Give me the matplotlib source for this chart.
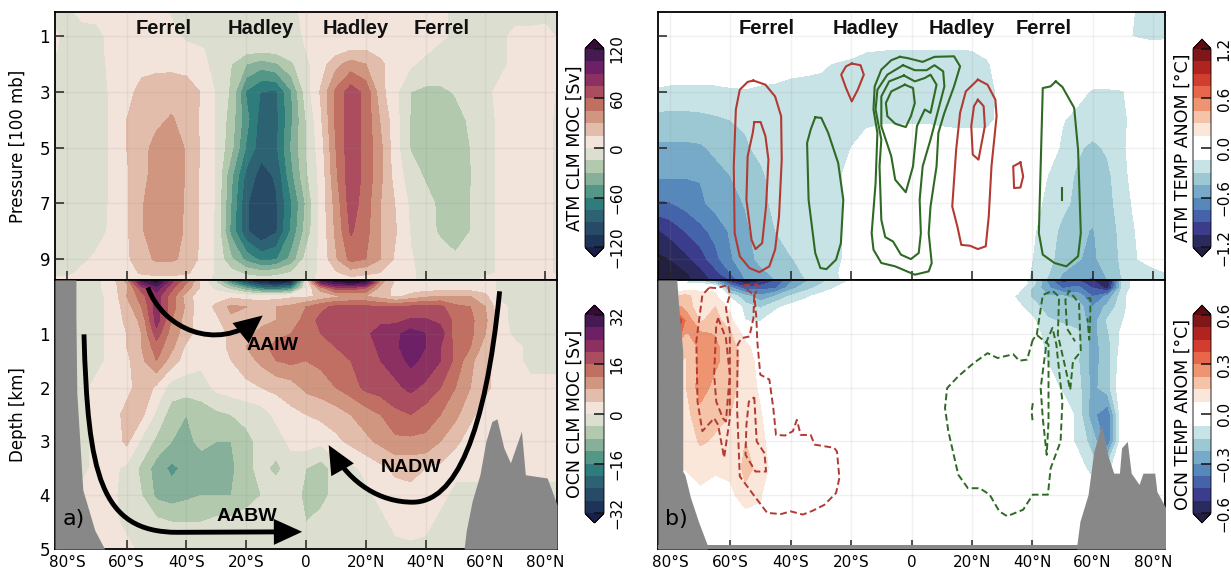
import numpy as np
import matplotlib
matplotlib.use('Agg')
import matplotlib.pyplot as plt
from matplotlib.patches import FancyArrowPatch
from matplotlib.path import Path

### Grids ###
lats = list(range(-85, 90, 5))
pres = [0.13, 1, 1.5, 2, 3, 4, 5, 6, 7, 8, 9, 9.5, 9.75]
depth = [0, 0.05, 0.15, 0.3, 0.5, 0.75, 1, 1.25, 1.5, 2, 2.5, 3, 3.5, 4, 4.5, 5]

### Atmosphere MOC [Sv] ###
atmMoc = [
    [-2,-2,2,2,3, 3,3,3,-1,-3, -3,-3,-3,-3,-3, -3,-2,2,3,3, 3,3,3,3,3, 3,2,-2,-3,-3, -3,-3,-3,-2,-2],
    [2,-2,-3,-2,2, 3,3,4,3,-2, -4,-4,-4,-4,-4, -4,-3,1,3,4, 5,5,4,4,3, 3,2,-2,-3,-3, -2,2,2,2,-1],
    [1,-2,-3,-2,2, 4,6,6,5,3, 1,-4,-7,-10,-11, -10,-6,0,4,8, 15,15,10,4,3, 2,-3,-4,-4,-3, -2,2,2,2,-1],
    [-2,-3,-3,-3,2, 6,10,10,10,8, 4,-5,-15,-30,-38, -32,-18,-3,8,25, 36,30,18,5,2, -4,-5,-5,-5,-4, -2,2,3,2,-1],
    [-2,-4,-4,-3,1, 10,20,25,26,24, 14,-2,-18,-62,-76, -77,-47,-8,17,48, 68,55,20,3,-15, -18,-18,-14,-8,-2, 2,2,2,2,-1],
    [-2,-4,-4,-3,1, 15,24,28,31,26, 12,-2,-22,-55,-82, -80,-48,-15,13,48, 70,55,28,5,-16, -22,-22,-20,-13,-2, 1,2,2,1,-1],
    [-2,-4,-4,-3,1, 15,27,33,35,29, 13,-2,-26,-62,-84, -78,-44,-15,8,45, 70,55,33,5,-16, -24,-24,-22,-15,-2, 1,2,2,1,-1],
    [-2,-4,-4,-3,1, 13,27,34,37,29, 12,-2,-42,-80,-96, -88,-50,-18,5,42, 70,55,33,8,-8, -17,-22,-22,-16,-2, 1,2,2,1,-1],
    [-2,-4,-4,-3,1, 13,29,36,37,28, 12,-2,-46,-88,-104, -92,-62,-28,5,36, 68,52,30,14,-3, -10,-18,-22,-15,-2, 1,2,2,1,-1],
    [-1,-3,-3,-2,1, 13,29,36,36,28, 12,-3,-50,-88,-104, -92,-58,-24,4,33, 62,50,30,16,-1, -10,-17,-18,-15,-2, 1,2,2,1,-1],
    [-1,-2,-1,1,1, 12,25,32,32,27, 11,-3,-28,-50,-65, -62,-40,-10,3,28, 50,45,30,12,1, -4,-9,-14,-12,-2, 1,2,1,1,-1],
    [-1,-1,1,1,1, 8,17,20,20,17, 7,-2,-10,-18,-23, -20,-14,-6,2,12, 22,18,14,7,1, -2,-3,-3,-3,-2, 1,1,1,1,-1],
    [1,1,1,1,1, 3,5,6,6,5, 3,-2,-4,-6,-8, -7,-5,-3,2,4, 8,6,5,3,1, -2,-2,-2,-2,2, 1,1,1,1,1],
]

### Ocean MOC [Sv] ###
ocnMoc = [
    [-1,-1,-1,-1,2, 10,30,34,22,14, 3,-4,-20,-30,-34, -36,-36,-2,30,34, 36,34,10,3,2, 2,2,2,2,2, -1,-1,-1,-1,-1],
    [-1,-1,-1,-1,2, 8,26,32,20,12, 3,-4,-14,-24,-30, -32,-30,-1,24,30, 32,30,9,3,2, 2,2,2,2,2, -1,-1,-1,-1,-1],
    [-1,-1,-1,-1,2, 7,18,26,17,10, 3,-1,-6,-12,-18, -20,-16,0,10,18, 18,16,6,3,2, 2,2,2,2,2, -1,-1,-1,-1,-1],
    [-1,-1,-1,-1,1, 8,14,22,14,6, 1,2,3,2,2, 2,3,3,5,7, 8,8,6,3,5, 7,8,8,8,5, -1,-1,-1,-1,-1],
    [-1,-1,-1,-1,1, 6,12,22,14,7, 1,5,9,8,7, 8,9,12,15,17, 17,17,16,16,17, 17,17,13,12,8, 1,-1,-1,-1,-1],
    [-1,-1,-1,-1,1, 5,9,22,12,6, 1,3,7,7,7, 8,9,14,17,18, 19,19,19,19,20.5, 20.5,19,15,13,9, 1,-1,-1,-1,-1],
    [-1,-1,-1,-1,1, 4,8,18,10,6, 1,2,5,7,9, 11,12,13,16,17, 18,19,22,23,26, 24,22,14,13,8, 2,-1,-1,-1,-1],
    [-1,-1,-1,-1,1, 4,8,14,9,3, 1,2,5,8,11, 13,14,13,15,16, 17,18,21,23,27, 24,20,15,12,6, 2,1,-1,-1,-1],
    [-1,-1,-1,-1,1, 3,7,12,6,2, 1,2,4,6,9, 12,13,12,13,15, 16,18,20,22,25, 23,20,15,9,5, 2,1,-1,-1,-1],
    [-1,-1,-1,1,1, 2,7,3,-2,-2, -2,1,2,3,4, 5,6,9,10,12, 14,17,18,19,21, 19,16,12,8,5, 2,1,1,1,1],
    [-1,-1,-1,1,1, 6,5,-1,-6,-8, -6,-5,-4,-3,-2, 1,3,4,5,6, 8,10,12,15,16, 14,12,9,5,2, 1,1,1,1,1],
    [-1,-1,-1,1,1, 5,-1,-5,-8,-9, -7,-8,-8,-5,-3, -2,1,2,1,3, 5,7,9,11,11, 11,8,5,2,1, 1,1,1,1,1],
    [-1,-1,-1,1,1, -1,-5,-10,-13,-11, -10,-10,-9,-5,-3, -5,-2,-4,-6,-2, -1,1,3,5,5, 4,3,1,1,1, 1,1,1,1,1],
    [1,1,1,1,1, -2,-4,-9,-10,-9, -8,-8,-8,-6,-4, -2,-2,-5,-6,-2, -1,-1,1,2,3, 2,1,-1,-1,-1, -1,-1,-1,-1,-1],
    [1,1,1,1,1, -1,-2,-3,-4,-4, -4,-3,-3,-2,-2, -2,-2,-4,-2,-1, -1,-1,-1,1,2, 1,-1,-1,-1,-1, -1,-1,-1,-1,-1],
    [1,1,1,1,1, 1,-1,-1,-1,-1, -1,-1,-1,-1,-1, -1,-1,-1,-1,-1, -1,-1,-1,-1,-1, -1,-1,-1,-1,-1, -1,-1,-1,-1,-1],
]

### Atmosphere temperature anomaly [0.01 C] ###
atmTemp = [
    [0,0,0,0,0, 0,0,0,0,0, 0,0,0,0,0, 0,0,0,0,0, 0,0,0,0,0, 0,0,0,0,0, -2,-8,-17,-18,-18],
    [0,0,0,0,0, 0,0,0,0,0, 0,0,0,0,0, 0,0,0,0,0, 0,0,0,0,0, 0,0,0,0,0, -5,-12,-17,-20,-18],
    [0,0,0,0,0, 0,0,0,0,0, 0,0,-3,-8,-14, -15,-16,-16,-16,-16, -16,-15,-10,0,0, 0,0,0,0,0, 0,0,-3,-5,-5],
    [0,0,0,0,0, 0,0,0,0,-8, -10,-12,-17,-20,-22, -22,-22,-22,-22,-22, -22,-22,-18,-4,0, 0,0,0,0,0, 0,0,0,0,0],
    [-18,-20,-20,-20,-20, -18,-17,-20,-22,-22, -22,-22,-22,-22,-22, -22,-22,-22,-22,-22, -22,-22,-22,-10,0, 0,0,-2,-10,-17, -17,-16,-5,0,0],
    [-35,-35,-35,-34,-32, -30,-28,-25,-22,-22, -22,-22,-22,-22,-20, -18,-18,-18,-18,-20, -22,-22,-22,-8,0, 0,0,-14,-20,-22, -24,-20,-4,0,0],
    [-48,-48,-48,-47,-42, -38,-32,-26,-22,-20, -20,-19,-18,-15,-5, 0,0,0,0,0, 0,0,0,0,0, 0,-5,-18,-28,-33, -28,-18,-4,0,0],
    [-58,-58,-59,-59,-50, -45,-38,-33,-24,-21, -20,-19,-19,-9,0, 0,0,0,0,0, 0,0,0,0,0, -5,-15,-24,-32,-38, -33,-20,-6,0,0],
    [-78,-76,-70,-63,-55, -50,-44,-35,-26,-22, -20,-19,-19,-9,0, 0,0,0,0,0, 0,0,0,0,0, -10,-18,-26,-34,-40, -35,-22,-10,-3,0],
    [-108,-100,-90,-80,-70, -58,-48,-38,-30,-23, -20,-19,-19,-9,0, 0,0,0,0,0, 0,0,0,0,-3, -13,-22,-34,-42,-46, -38,-25,-13,-5,-2],
    [-125,-120,-110,-98,-80, -62,-50,-42,-36,-31, -26,-20,-19,-9,0, 0,0,0,0,0, 0,0,0,0,-3, -15,-24,-38,-44,-48, -38,-27,-15,-12,-12],
    [-130,-128,-122,-110,-95, -75,-55,-48,-42,-35, -28,-22,-17,-6,0, 0,0,0,0,0, 0,0,0,0,-3, -17,-28,-45,-50,-55, -42,-28,-20,-17,-15],
    [-135,-130,-125,-115,-100, -90,-60,-52,-45,-37, -30,-24,-18,-8,0, 0,0,0,0,0, 0,0,0,0,-3, -18,-32,-50,-55,-65, -45,-30,-22,-18,-16],
]

### Ocean temperature anomaly [0.01 C] ###
ocnTemp = [
    [0,0,-5,-15,-30, -55,-60,-55,-45,-35, -25,-18,-12,-7,-3, 0,0,0,0,0, 0,0,0,0,-2, -12,-32,-48,-45,-52, -62,-14,-3,0,0],
    [0,0,-8,-10,-20, -45,-55,-50,-42,-30, -22,-16,-10,-6,-2, 0,0,0,0,0, 0,0,0,0,-2, -10,-30,-45,-42,-50, -60,-12,-3,0,0],
    [0,0,3,6,5, -28,-42,-40,-38,-25, -18,-12,-7,-3,0, 0,0,0,0,0, 0,0,0,0,-3, -16,-28,-38,-35,-45, -55,-12,-3,0,0],
    [0,10,18,10,10, -10,-20,-28,-22,-14, -9,-5,-2,0,0, 0,0,0,0,0, 0,0,0,-2,-9, -16,-22,-22,-25,-38, -28,-10,0,0,0],
    [0,30,20,10,15, 5,-12,-16,-9,-5, -3,0,0,0,0, 0,0,0,0,0, 0,0,0,0,-5, -12,-18,-18,-18,-30, -20,-10,0,0,0],
    [0,65,30,14,18, 10,-8,-8,-3,-1, 0,0,0,0,0, 0,0,0,0,0, 0,0,0,0,0, -6,-14,-16,-17,-27, -14,-8,0,0,0],
    [0,50,22,24,22, 16,4,-1,0,0, 0,0,0,0,0, 0,0,0,0,0, 0,0,0,0,0, -2,-12,-12,-14,-26, -16,-5,0,0,0],
    [0,25,16,24,24, 18,10,2,0,0, 0,0,0,0,0, 0,0,0,0,0, 0,0,0,0,0, 0,-10,-11,-13,-26, -18,-4,0,0,0],
    [0,20,14,25,24, 19,12,4,0,0, 0,0,0,0,0, 0,0,0,0,0, 0,0,0,0,0, 0,-8,-11,-14,-26, -18,-2,0,0,0],
    [0,15,14,26,20, 17,12,6,1,0, 0,0,0,0,0, 0,0,0,0,0, 0,0,0,0,0, 0,-2,-9,-12,-25, -18,0,0,0,0],
    [0,12,12,20,17, 15,14,8,1,0, 0,0,0,0,0, 0,0,0,0,0, 0,0,0,0,0, 0,0,-1,-10,-28, -36,0,0,0,0],
    [0,10,10,16,14, 11,15,10,2,0, 0,0,0,0,0, 0,0,0,0,0, 0,0,0,0,0, 0,0,0,-10,-18, -36,0,0,0,0],
    [0,10,8,10,9, 10,17,13,2,0, 0,0,0,0,0, 0,0,0,0,0, 0,0,0,0,0, 0,0,0,-2,-12, -10,0,0,0,0],
    [0,0,0,6,3, 5,13,8,1,0, 0,0,0,0,0, 0,0,0,0,0, 0,0,0,0,0, 0,0,0,0,0, 0,0,0,0,0],
    [0,0,0,0,0, 0,2,6,0,0, 0,0,0,0,0, 0,0,0,0,0, 0,0,0,0,0, 0,0,0,0,0, 0,0,0,0,0],
    [0,0,0,0,0, 0,0,0,0,0, 0,0,0,0,0, 0,0,0,0,0, 0,0,0,0,0, 0,0,0,0,0, 0,0,0,0,0],
]

### Anomaly contour lines, (lat, level) pairs ###
atmRed = [
    ([-52.4,-48.4,-45.2,-43.2,-43,-43.9,-45.2,-47.1,-50.4,-53.7,-56.9,-58.6,-58.9,-58.2,-56.9,-54.3,-52.4],
     [2.59,2.74,3.16,3.87,5.43,7.47,8.66,9.26,9.47,9.32,8.9,8.07,5.67,3.63,2.92,2.64,2.59]),
    ([-52.1,-50,-48.4,-47.4,-48.2,-49.5,-51.7,-53,-54.7,-54.3,-52.6,-52.1],
     [4.08,4.08,4.59,5.43,7.11,8.43,8.64,8.31,6.87,5.31,4.47,4.08]),
    ([-19.8,-16.9,-15.8,-17.8,-19.8,-21.7,-23.3,-21.7,-19.8],
     [1.98,2.04,2.38,2.92,3.34,2.86,2.38,2.08,1.98]),
    ([22,25.2,27.8,28.2,26.5,25.6,24.6,22,19.4,16.5,15.2,13.5,14.8,16.1,18,22],
     [2.56,2.74,3.28,3.87,5.67,7.47,8.54,8.64,8.52,8.49,7.83,7.11,5.07,3.75,2.98,2.56]),
    ([22,23.9,24.3,22.2,20.3,19.8,20.7,22],
     [3.28,3.51,4.23,5.43,5.25,4.23,3.51,3.28]),
    ([36.1,37,36.1,34,33.7,36.1],
     [5.53,6.03,6.43,6.45,5.67,5.53]),
]
atmGreen = [
    ([-31.9,-29.9,-27.6,-24.3,-22.6,-23.4,-25,-28.2,-30.2,-31.9,-34.1,-34.6,-33.4,-31.9],
     [3.91,3.93,4.47,5.55,6.87,8.43,9.02,9.36,9.32,8.78,6.87,4.83,4.35,3.91]),
    ([-3.85,-1.5,3.7,7.6,14.1,16.1,14.1,10.9,8.9,8.3,6.3,5.7,6.7,5.7,1.1,-5.4,-10,-12.6,-13.2,-11.9,-11.3,-12.6,-12.2,-10,-6.7,-3.85],
     [1.74,1.78,1.92,1.74,1.72,2.08,2.8,3.75,4.47,5.67,7.11,8.07,9.14,9.44,9.56,9.26,9.14,8.66,8.07,6.27,4.47,3.63,2.8,2.2,1.86,1.74]),
    ([-2.8,1.1,5,7.6,10.5,10.9,6.3,3.7,2.7,3.1,2.4,-0.2,-3.5,-6.1,-8.7,-10,-10.6,-10,-11.9,-11.3,-8,-2.8],
     [2.04,2.22,2.22,2.04,2.26,2.8,4.71,5.67,6.87,8.07,8.78,9,8.84,8.37,8.21,7.59,5.67,4.71,3.63,2.92,2.38,2.04]),
    ([-2.5,1.1,4.4,6.3,8.3,6.3,4.4,1.8,0.5,-1.9,-5.4,-6.7,-10,-10,-7.4,-2.5],
     [2.41,2.62,2.5,2.38,2.74,3.75,3.63,4.23,5.67,6.6,6.15,5.31,4.23,3.16,2.62,2.41]),
    ([-2.2,0.5,1.1,-0.2,-1.9,-5.4,-8,-8.5,-6.7,-2.2],
     [2.74,2.86,3.4,3.87,4.26,4.14,3.87,3.4,2.98,2.74]),
    ([47.8,50,53.9,55.2,56.1,55.2,51.3,47.4,43.5,42.2,42.8,43.5,46.1,47.8],
     [2.62,2.82,3.57,5.07,8.07,8.9,9.26,9.14,8.84,8.07,5.67,2.86,2.8,2.62]),
    ([50,50],[6.45,6.87]),
]
ocnRed = [
    ([-55.6,-51.1,-50.8,-52.1,-51.4,-51.1,-50.1,-47.1,-45.8,-44.9,-41.9,-39.3,-38,-36.7,-33.4,-32.1,-25.6,-24.7,-23.9,-25,-28.9,-32.8,-36,-40,-43.2,-47.8,-52.4,-56.9,-57.8,-57.6,-56.3,-53.7,-52.4,-52.1,-55.2,-55.6],
     [.10,.08,.15,.28,.71,1.14,1.76,1.85,2.38,2.88,2.89,2.81,2.6,2.88,2.88,3.06,3.12,3.19,3.68,3.96,4.18,4.29,4.36,4.3,4.35,4.33,3.99,3.65,2.38,1.2,1.08,1.05,.71,.28,.15,.10]),
    ([-52.1,-51.3,-48.7,-48.2,-51.7,-55,-54.7,-53.9,-52.1],
     [2.18,3,3.22,3.56,3.56,3.25,2.69,2.26,2.18]),
    ([-67,-64.7,-62.5,-60.8,-60.2,-61.5,-60.2,-60.2,-62.1,-64.1,-65.4,-69.3,-70.9,-71.3,-69.3,-67],
     [.14,.15,.12,.09,.28,.52,.96,2.57,3.3,2.69,2.57,2.81,2.26,1.14,.28,.14]),
    ([-64.1,-61.5,-60.2,-61.5,-62.5,-64.7,-65.4,-64.7,-64.1],
     [.71,1.08,1.76,2.63,2.57,2.26,1.76,.83,.71]),
]
ocnGreen = [
    ([40.2,38.3,35.7,33.7,28.5,25.2,20.7,15.5,11.8,11.1,12.2,15.5,18.7,22.6,25.9,29.1,31.7,37,40.2,45.2,46.1,49.4,50,48,46.7,44.8,42.8,43.5,44.8,45.4,45.4,41.5,40.2],
     [1.11,1.48,1.5,1.38,1.45,1.36,1.54,1.79,2.01,2.38,2.81,3.62,3.87,3.87,3.99,4.3,4.39,4.27,3.99,3.99,3.5,3,2.26,1.2,.89,1.14,2.01,2.57,3.25,2.63,1.2,1.02,1.11]),
    ([41.5,43.5,46.7,48.9,48.5,50.5,52.6,53.5,56.1,55.5,52.2,51,51.5,54.2],
     [1.02,.28,.2,.31,1.02,1.51,2.04,1.51,1.33,.43,.2,.37,.9,1.14]),
    ([58.3,59.3,59.2,58.9,58.3],
     [.34,.34,.77,1.11,.71]),
    ([40.2,39.8,40.2],[2.29,2.44,2.66]),
]

### Bathymetry, (lat, depth) ###
leftSLat = [-84,-77,-77,-76.7,-74.7,-70.7,-67.4]
leftSDep = [0,0,0.7,2.1,3.9,4.65,5]
leftNLat = [52.9,53.6,55.6,58.2,60.2,62.2,63.9,66.2,68.4,72.1,73.4,80.7,82,84]
leftNDep = [5,4.67,4.11,3.62,3,2.63,2.58,3.12,3.4,2.81,3.62,3.68,3.87,4.18]
rightSLat = [-84,-77.8,-77.1,-75.8,-75.8,-75.1,-73.2,-70.6,-67.7]
rightSDep = [0,0,0.52,1.33,3.56,3.62,4.05,4.49,4.92]
rightNLat = [54.8,55.8,58.5,60.4,63,65,67,68.9,69.6,71.5,72.8,75.4,76.7,80.6,81.3,84.3]
rightNDep = [4.92,4.49,3.99,3.19,2.69,3.25,3.59,3.59,3.12,3,3.59,3.8,3.59,3.59,3.93,4.24]

### Circulation arrows, bezier control points (lat, depth) ###
aaiwPts = [(-52.9,.14),(-48,.9),(-30,1.35),(-14.5,.66)]
aaiwCodes = [Path.MOVETO,Path.CURVE4,Path.CURVE4,Path.CURVE4]
nadwPts = [(64.8,.21),(60,2.9),(50,4.13),(35.7,4.13),(25,4.13),(15,3.8),(7.6,3.07)]
nadwCodes = [Path.MOVETO,Path.CURVE4,Path.CURVE4,Path.CURVE4,Path.CURVE4,Path.CURVE4,Path.CURVE4]
aabwPts = [(-74.3,1.01),(-73,3.6),(-69,4.69),(-43,4.69),(-1.3,4.68)]
aabwCodes = [Path.MOVETO,Path.CURVE4,Path.CURVE4,Path.CURVE4,Path.LINETO]

### Colors, under + bands + over ###
mocColors = ['#1a1f4b','#1e3358','#274a66','#2c6272','#2f7c7c','#559786','#86b09a','#b2c9ae','#dcdfd0',
             '#f2e4db','#e3bdab','#d19680','#c26f63','#ac4d5f','#8b3060','#6d2065','#451a52','#340d35']
tempColors = ['#23203f','#2b2a5f','#3c3c8c','#4563ab','#5788bc','#76aac8','#9bc8d3','#c8e3e6','#ffffff',
              '#ffffff','#fbe6da','#f5c3a8','#ee9470','#e8664a','#d13d2e','#b0241f','#7f1719','#5e0c12']
redLine = '#b23a32'
greenLine = '#2f6a25'
landColor = '#888888'

W, H = 1231.0, 568.0
plt.rc('font', size=12)
plt.rc('axes', linewidth=1.3)
fig = plt.figure(figsize=(W/100, H/100), dpi=100)

def addAxes(x0, x1, y0, y1):
    return fig.add_axes([x0/W, 1-y1/H, (x1-x0)/W, (y1-y0)/H])

axAtmMoc = addAxes(55, 557, 12, 280)
axOcnMoc = addAxes(55, 557, 280, 549)
axAtmTmp = addAxes(658, 1165, 12, 280)
axOcnTmp = addAxes(658, 1165, 280, 549)

mocLevA = np.arange(-120, 121, 15)
mocLevO = np.arange(-32, 33, 4)
tmpLevA = np.arange(-1.2, 1.21, 0.15)
tmpLevO = np.arange(-0.6, 0.61, 0.075)

c1 = axAtmMoc.contourf(lats, pres, atmMoc, levels=mocLevA, colors=mocColors, extend='both', zorder=1)
c2 = axOcnMoc.contourf(lats, depth, ocnMoc, levels=mocLevO, colors=mocColors, extend='both', zorder=1)
c3 = axAtmTmp.contourf(lats, pres, np.array(atmTemp)/100., levels=tmpLevA, colors=tempColors, extend='both', zorder=1)
c4 = axOcnTmp.contourf(lats, depth, np.array(ocnTemp)/100., levels=tmpLevO, colors=tempColors, extend='both', zorder=1)

for x, y in atmRed:
    axAtmTmp.plot(x, y, color=redLine, lw=1.5, zorder=4)
for x, y in atmGreen:
    axAtmTmp.plot(x, y, color=greenLine, lw=1.5, zorder=4)
for x, y in ocnRed:
    axOcnTmp.plot(x, y, color=redLine, lw=1.4, ls=(0, (3.5, 1.8)), zorder=4)
for x, y in ocnGreen:
    axOcnTmp.plot(x, y, color=greenLine, lw=1.4, ls=(0, (3.5, 1.8)), zorder=4)

axOcnMoc.fill_between(leftSLat, leftSDep, 5, color=landColor, lw=0, zorder=3)
axOcnMoc.fill_between(leftNLat, leftNDep, 5, color=landColor, lw=0, zorder=3)
axOcnTmp.fill_between(rightSLat, rightSDep, 5, color=landColor, lw=0, zorder=3)
axOcnTmp.fill_between(rightNLat, rightNDep, 5, color=landColor, lw=0, zorder=3)
axOcnTmp.fill_between([-84, 84.3], [4.93, 4.93], 5, color=landColor, lw=0, zorder=3)

### Axes ###
latTicks = [-80, -60, -40, -20, 0, 20, 40, 60, 80]
latLabels = ['80°S', '60°S', '40°S', '20°S', '0', '20°N', '40°N', '60°N', '80°N']
for ax in [axAtmMoc, axAtmTmp]:
    ax.set_ylim(9.75, 0.13)
    ax.set_yticks([1, 3, 5, 7, 9])
for ax in [axOcnMoc, axOcnTmp]:
    ax.set_ylim(5, 0)
    ax.set_yticks([1, 2, 3, 4, 5])
for ax in [axAtmMoc, axOcnMoc, axAtmTmp, axOcnTmp]:
    ax.set_xlim(-84, 84)
    ax.set_xticks(latTicks)
    ax.set_xticklabels(latLabels, fontsize=11)
    ax.tick_params(direction='in', length=6.5, width=1.1, labelsize=12, color='#222222')
    ax.tick_params(axis='x', labelsize=11, pad=4)
    ax.grid(True, color='#888888', alpha=0.12, lw=1)
    ax.set_axisbelow(False)
axAtmMoc.tick_params(labelbottom=False)
axAtmTmp.tick_params(labelbottom=False, labelleft=False)
axOcnTmp.tick_params(labelleft=False)
axAtmMoc.set_ylabel('Pressure [100 mb]', fontsize=12)
axOcnMoc.set_ylabel('Depth [km]', fontsize=12)
axAtmMoc.yaxis.set_label_coords(-28/502., 0.5)
axOcnMoc.yaxis.set_label_coords(-28/502., 0.5)

### Cell names ###
cellLatL = [-47.5, -15, 16.7, 45.4]
cellLatR = [-48.1, -15, 16.7, 43.9]
cellName = ['Ferrel', 'Hadley', 'Hadley', 'Ferrel']
for ax, cellLat in [(axAtmMoc, cellLatL), (axAtmTmp, cellLatR)]:
    for x, s in zip(cellLat, cellName):
        ax.text(x, 0.72, s, ha='center', va='center', fontsize=14.5, fontweight='bold',
                family='Liberation Sans', color='#111111', zorder=6)

### Arrows ###
for pts, codes in [(aaiwPts, aaiwCodes), (nadwPts, nadwCodes), (aabwPts, aabwCodes)]:
    arrow = FancyArrowPatch(path=Path(pts, codes), arrowstyle='-|>,head_length=1.2,head_width=0.55',
                            mutation_scale=12, lw=3.5, color='k', zorder=5, joinstyle='miter', capstyle='butt')
    axOcnMoc.add_patch(arrow)
axOcnMoc.text(-11.2, 1.22, 'AAIW', ha='center', va='center', fontsize=14, fontweight='bold', family='Liberation Sans', zorder=6)
axOcnMoc.text(35, 3.48, 'NADW', ha='center', va='center', fontsize=14, fontweight='bold', family='Liberation Sans', zorder=6)
axOcnMoc.text(-19.8, 4.39, 'AABW', ha='center', va='center', fontsize=14, fontweight='bold', family='Liberation Sans', zorder=6)
axOcnMoc.text(-77.8, 4.44, 'a)', ha='center', va='center', fontsize=16, zorder=6)
axOcnTmp.text(-77.8, 4.44, 'b)', ha='center', va='center', fontsize=16, zorder=6)

### Colorbars ###
def addBar(cs, x0, x1, y0, y1, ticks, labels, title):
    cax = addAxes(x0, x1, y0, y1)
    cb = fig.colorbar(cs, cax=cax, extend='both', extendfrac=0.05, drawedges=False)
    cb.set_ticks(ticks)
    cb.set_ticklabels(labels)
    cb.outline.set_linewidth(0.6)
    cax.minorticks_off()
    cax.tick_params(direction='in', length=7, width=1.1, labelsize=11, pad=4, color='#111111')
    for t in cax.get_yticklabels():
        t.set_rotation(90)
        t.set_va('center')
    cax.set_ylabel(title, fontsize=12.5, labelpad=1)
    cax.yaxis.set_label_position('left')
    return cb

addBar(c1, 585, 604, 39, 257, [-120, -60, 0, 60, 120], ['\u2212120', '\u221260', '0', '60', '120'], 'ATM CLM MOC [Sv]')
addBar(c2, 585, 604, 305, 523, [-32, -16, 0, 16, 32], ['\u221232', '\u221216', '0', '16', '32'], 'OCN CLM MOC [Sv]')
addBar(c3, 1193, 1211, 39, 257, [-1.2, -0.6, 0, 0.6, 1.2], ['\u22121.2', '\u22120.6', '0.0', '0.6', '1.2'], 'ATM TEMP ANOM [°C]')
addBar(c4, 1193, 1211, 305, 523, [-0.6, -0.3, 0, 0.3, 0.6], ['\u22120.6', '\u22120.3', '0.0', '0.3', '0.6'], 'OCN TEMP ANOM [°C]')

fig.savefig('out.png', dpi=100)
